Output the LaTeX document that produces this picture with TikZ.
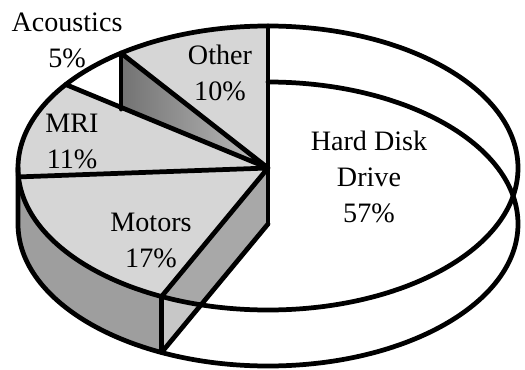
\documentclass[tikz,border=0pt]{standalone}
\usepackage{fontspec}
\setmainfont{Liberation Serif}
\usetikzlibrary{calc}

\definecolor{facegray}{gray}{0.84}
\definecolor{wallgray}{gray}{0.62}
\definecolor{cutgray}{gray}{0.66}
\definecolor{seamgray}{gray}{0.78}

\tikzset{
	rim/.style={x radius=5cm, y radius=2.84cm},
	outline/.style={line width=2.7pt, line join=round, line cap=round},
	slicetext/.style={align=center, inner sep=0pt, font=\fontsize{16}{20.5}\selectfont}
}

\begin{document}
\begin{tikzpicture}
	\useasboundingbox (0,0) rectangle (10.5,7.38);
	% centres of top and bottom face
	\coordinate (T) at (5.36,4.02);
	\coordinate (B) at (5.36,2.90);
	% rim points, top face
	\coordinate (top90) at ($(T)+(90:5 and 2.84)$);
	\coordinate (Qt) at ($(T)+(126:5 and 2.84)$);
	\coordinate (Rt) at ($(T)+(144:5 and 2.84)$);
	\coordinate (Lt) at ($(T)+(180:5 and 2.84)$);
	\coordinate (St) at ($(T)+(183.6:5 and 2.84)$);
	\coordinate (Pt) at ($(T)+(244.8:5 and 2.84)$);
	% rim points, bottom face
	\coordinate (Qb) at ($(B)+(126:5 and 2.84)$);
	\coordinate (Lb) at ($(B)+(180:5 and 2.84)$);
	\coordinate (Pb) at ($(B)+(244.8:5 and 2.84)$);

	% top faces
	\fill[facegray] (T) -- (top90) arc[rim, start angle=90, end angle=126] -- cycle;
	\fill[facegray] (T) -- (Rt) arc[rim, start angle=144, end angle=244.8] -- cycle;
	% outer wall of Motors
	\fill[wallgray] (Lt) arc[rim, start angle=180, end angle=244.8]
		-- (Pb) arc[rim, start angle=244.8, end angle=180] -- cycle;
	% cut faces
	\fill[cutgray] (T) -- (Pt) -- (Pb) -- (B) -- cycle;
	\fill[seamgray] (Pt) arc[rim, start angle=244.8, end angle=254.5] -- (Pb) -- cycle;
	\shade[left color=black!55, right color=black!25] (T) -- (Qt) -- (Qb) -- cycle;

	% outlines
	\draw[outline] (T) ellipse[rim];
	\draw[outline] (Lt) -- (Lb) arc[rim, start angle=180, end angle=450];
	\draw[outline] (top90) -- (B);
	\draw[outline] (Pt) -- (Pb) -- (B);
	\draw[outline] (Qt) -- (Qb);
	\draw[outline] (T) -- (Qt) (T) -- (Rt) (T) -- (St) (T) -- (Pt);

	% labels
	\node[slicetext] (acoustics) at (1.34,6.58) {Acoustics\\5\%};
	\node[slicetext] (other) at (4.40,5.92) {Other\\10\%};
	\node[slicetext] (mri) at (1.44,4.56) {MRI\\11\%};
	\node[slicetext] (motors) at (3.02,2.58) {Motors\\17\%};
	\node[slicetext] (hdd) at (7.38,3.84) {Hard Disk\\Drive\\57\%};
\end{tikzpicture}
\end{document}
